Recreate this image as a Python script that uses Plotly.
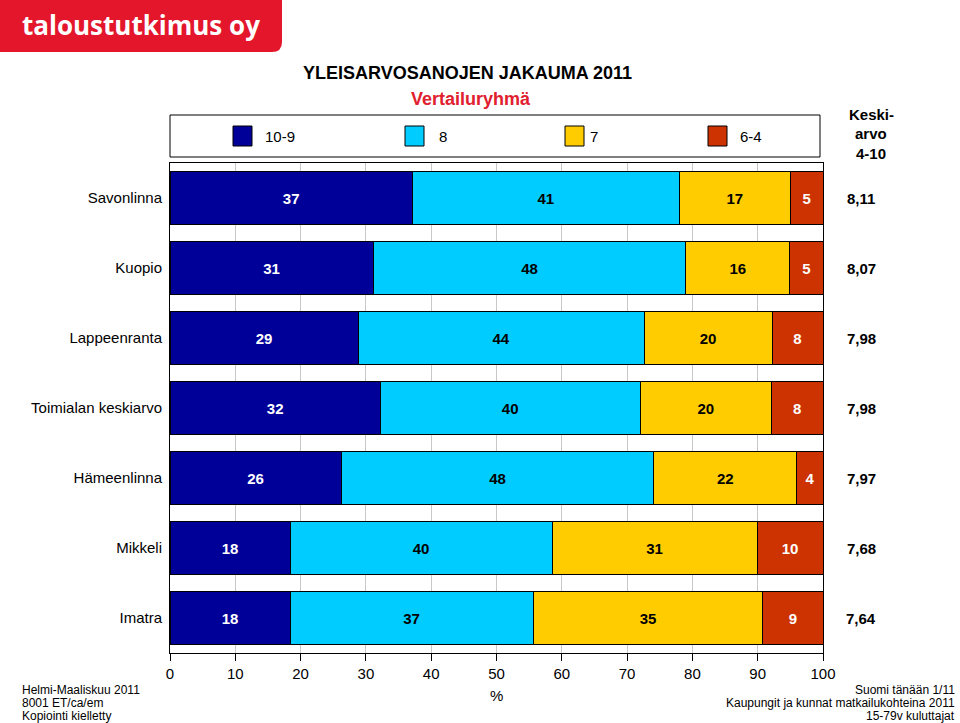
import plotly.graph_objects as go

# ---------------- data ----------------
categories = ["Savonlinna", "Kuopio", "Lappeenranta", "Toimialan keskiarvo",
              "Hämeenlinna", "Mikkeli", "Imatra"]
series_names = ["10-9", "8", "7", "6-4"]
v_10_9 = [37.1, 31.1, 28.8, 32.2, 26.2, 18.4, 18.4]
v_8 = [40.9, 47.9, 43.8, 39.8, 47.9, 40.1, 37.2]
v_7 = [17.0, 15.9, 19.6, 20.1, 21.9, 31.4, 35.2]
v_6_4 = [5.0, 5.1, 7.8, 7.9, 4.0, 10.1, 9.2]
averages = [8.11, 8.07, 7.98, 7.98, 7.97, 7.68, 7.64]
x_ticks = [0, 10, 20, 30, 40, 50, 60, 70, 80, 90, 100]

colors = ["#000099", "#00CCFF", "#FFCC00", "#CC3300"]
text_colors = ["white", "black", "black", "white"]
FONT = "Liberation Sans, Arial, sans-serif"

# ---------------- geometry helpers ----------------
W, H = 960, 723
L, R, T, B = 170, 823, 163, 653


def px(x):
    return (x - L) / (R - L)


def py(y):
    return (B - y) / (B - T)


fig = go.Figure()
for name, vals, col, tcol in zip(series_names, [v_10_9, v_8, v_7, v_6_4], colors, text_colors):
    fig.add_trace(go.Bar(
        y=categories, x=vals, name=name, orientation="h",
        marker=dict(color=col, line=dict(color="black", width=1)),
        width=0.76,
        texttemplate="<b>%{x:.0f}</b>",
        textposition="inside", insidetextanchor="middle",
        textangle=0, constraintext="none",
        textfont=dict(color=tcol, size=15, family=FONT),
        showlegend=False, hoverinfo="skip",
    ))

shapes = []
annotations = []

# logo
path = "M {},{} L {},{} L {},{} Q {},{} {},{} L {},{} Z".format(
    px(0), py(0), px(282), py(0), px(282), py(42), px(282), py(52), px(272), py(52), px(0), py(52))
shapes.append(dict(type="path", xref="paper", yref="paper", path=path,
                   fillcolor="#E3162B", line=dict(width=0), layer="above"))
annotations.append(dict(xref="paper", yref="paper", x=px(141), y=py(25),
                        text="<b>taloustutkimus oy</b>", showarrow=False,
                        xanchor="center", yanchor="middle",
                        font=dict(family="Open Sans, sans-serif", size=26, color="white")))

# titles
annotations.append(dict(xref="paper", yref="paper", x=px(467), y=py(73),
                        text="<b>YLEISARVOSANOJEN JAKAUMA 2011</b>", showarrow=False,
                        xanchor="center", yanchor="middle",
                        font=dict(family=FONT, size=18, color="black")))
annotations.append(dict(xref="paper", yref="paper", x=px(471), y=py(99),
                        text="<b>Vertailuryhmä</b>", showarrow=False,
                        xanchor="center", yanchor="middle",
                        font=dict(family=FONT, size=18, color="#E0202E")))

# legend box
shapes.append(dict(type="rect", xref="paper", yref="paper",
                   x0=px(170), x1=px(820), y0=py(115), y1=py(157),
                   line=dict(color="black", width=1), fillcolor="white"))
sq_x = [233, 405, 565, 708]
txt_x = [263, 437, 588, 738]
for i, name in enumerate(series_names):
    shapes.append(dict(type="rect", xref="paper", yref="paper",
                       x0=px(sq_x[i]), x1=px(sq_x[i] + 19), y0=py(126), y1=py(146),
                       line=dict(color="black", width=1), fillcolor=colors[i]))
    annotations.append(dict(xref="paper", yref="paper", x=px(txt_x[i]), y=py(136),
                            text=name, showarrow=False, xanchor="left", yanchor="middle",
                            font=dict(family=FONT, size=15, color="black")))

# Keski-arvo header
for txt, yy in zip(["Keski-", "arvo", "4-10"], [115, 134, 153]):
    annotations.append(dict(xref="paper", yref="paper", x=px(871), y=py(yy),
                            text="<b>" + txt + "</b>", showarrow=False,
                            xanchor="center", yanchor="middle",
                            font=dict(family=FONT, size=15, color="black")))

# averages
for cat, avg in zip(categories, averages):
    annotations.append(dict(xref="paper", yref="y", x=px(861), y=cat,
                            text="<b>" + f"{avg:.2f}".replace(".", ",") + "</b>",
                            showarrow=False, xanchor="center", yanchor="middle",
                            font=dict(family=FONT, size=15, color="black")))

# axis title %
annotations.append(dict(xref="paper", yref="paper", x=px(497), y=py(695),
                        text="%", showarrow=False, xanchor="center", yanchor="middle",
                        font=dict(family=FONT, size=15, color="black")))

# footers
for txt, yy in zip(["Helmi-Maaliskuu 2011", "8001 ET/ca/em", "Kopiointi kielletty"], [690, 703, 716]):
    annotations.append(dict(xref="paper", yref="paper", x=px(20), y=py(yy),
                            text=txt, showarrow=False, xanchor="left", yanchor="middle",
                            font=dict(family=FONT, size=12, color="black")))
for txt, yy in zip(["Suomi tänään 1/11", "Kaupungit ja kunnat matkailukohteina 2011",
                    "15-79v kuluttajat"], [690, 703, 716]):
    annotations.append(dict(xref="paper", yref="paper", x=px(957), y=py(yy),
                            text=txt, showarrow=False, xanchor="right", yanchor="middle",
                            font=dict(family=FONT, size=12, color="black")))

fig.update_layout(
    width=W, height=H, barmode="stack",
    margin=dict(l=L, r=W - R, t=T, b=H - B, pad=0),
    paper_bgcolor="white", plot_bgcolor="white",
    font=dict(family=FONT, size=15, color="black"),
    shapes=shapes, annotations=annotations,
    showlegend=False,
)
fig.update_xaxes(range=[0, 100], tickvals=x_ticks, ticktext=[str(t) for t in x_ticks],
                 showgrid=True, gridcolor="#C8C8C8", gridwidth=1,
                 showline=True, linecolor="black", linewidth=1, mirror=True,
                 ticks="outside", ticklen=7, tickcolor="black",
                 tickfont=dict(size=15, family=FONT), zeroline=False, fixedrange=True)
fig.update_yaxes(categoryorder="array", categoryarray=categories, autorange="reversed",
                 showline=True, linecolor="black", linewidth=1, mirror=True,
                 ticks="", showgrid=False, tickfont=dict(size=15, family=FONT),
                 ticklabelstandoff=4, fixedrange=True)

fig.write_html("out.html", config={"displayModeBar": False},
               post_script="document.body.style.margin='0';document.body.style.overflow='hidden';")
